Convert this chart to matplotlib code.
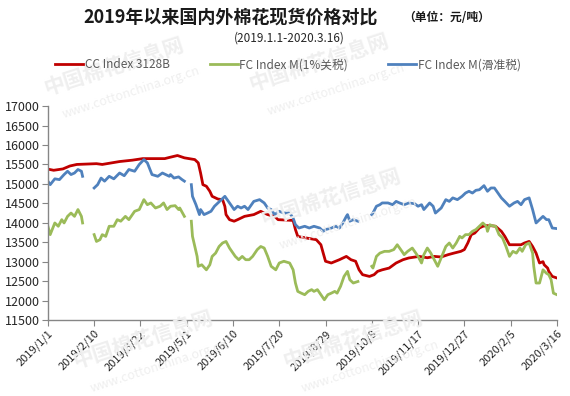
import numpy as np
import pandas as pd
import matplotlib
matplotlib.use("Agg")
import matplotlib.pyplot as plt

plt.rcParams['font.family'] = ['Noto Sans CJK SC', 'DejaVu Sans']

nan = np.nan

# CC Index 3128B
red_dates = [
    "2019-01-01", "2019-01-06", "2019-01-14", "2019-01-20", "2019-01-26", "2019-02-12",
    "2019-02-17", "2019-03-04", "2019-03-15", "2019-03-24", "2019-04-12", "2019-04-16",
    "2019-04-23", "2019-04-29", "2019-05-08", "2019-05-11", "2019-05-13", "2019-05-15",
    "2019-05-18", "2019-05-21", "2019-05-23", "2019-05-28", "2019-06-01", "2019-06-03",
    "2019-06-04", "2019-06-07", "2019-06-11", "2019-06-14", "2019-06-20", "2019-06-28",
    "2019-07-04", "2019-07-07", "2019-07-10", "2019-07-16", "2019-07-19", "2019-08-01",
    "2019-08-03", "2019-08-05", "2019-08-12", "2019-08-21", "2019-08-25", "2019-08-27",
    "2019-08-29", "2019-09-03", "2019-09-10", "2019-09-16", "2019-09-20", "2019-09-24",
    "2019-09-27", "2019-09-30", "2019-10-06", "2019-10-10", "2019-10-13", "2019-10-17",
    "2019-10-23", "2019-10-29", "2019-11-04", "2019-11-09", "2019-11-18", "2019-11-25",
    "2019-12-01", "2019-12-07", "2019-12-13", "2019-12-18", "2019-12-24", "2019-12-27",
    "2019-12-30", "2020-01-02", "2020-01-05", "2020-01-09", "2020-01-12", "2020-01-15",
    "2020-01-19", "2020-01-23", "2020-01-28", "2020-01-31", "2020-02-04", "2020-02-08",
    "2020-02-14", "2020-02-17", "2020-02-21", "2020-02-24", "2020-02-27", "2020-03-01",
    "2020-03-04", "2020-03-05", "2020-03-08", "2020-03-09", "2020-03-12", "2020-03-16",
]
red_vals = [
    15380, 15350, 15385, 15460, 15500, 15520,
    15500, 15575, 15610, 15650, 15650, 15680,
    15730, 15670, 15625, 15540, 15280, 14980,
    14940, 14810, 14680, 14610, 14595, 14420,
    14210, 14080, 14040, 14080, 14165, 14210,
    14295, 14250, 14210, 14165, 14080, 14060,
    13825, 13650, 13610, 13565, 13435, 13220,
    13010, 12965, 13050, 13135, 13050, 13010,
    12790, 12665, 12620, 12665, 12750, 12790,
    12835, 12965, 13050, 13095, 13135, 13100,
    13135, 13120, 13180, 13220, 13265, 13310,
    13480, 13695, 13735, 13865, 13910, 13925,
    13925, 13910, 13780, 13650, 13435, 13435,
    13435, 13480, 13520, 13390, 13220, 12965,
    13000, 12920, 12835, 12750, 12620, 12580,
]

# FC Index M (1% tariff)
green_dates = [
    "2019-01-01", "2019-01-03", "2019-01-07", "2019-01-10", "2019-01-13", "2019-01-15",
    "2019-01-18", "2019-01-21", "2019-01-24", "2019-01-27", "2019-01-30", "2019-01-31",
    "2019-02-05",
    "2019-02-10", "2019-02-12", "2019-02-15", "2019-02-17", "2019-02-20", "2019-02-23",
    "2019-02-27", "2019-03-02", "2019-03-05", "2019-03-09", "2019-03-12", "2019-03-17",
    "2019-03-21", "2019-03-25", "2019-03-28", "2019-03-31", "2019-04-04", "2019-04-08",
    "2019-04-11", "2019-04-14", "2019-04-17", "2019-04-21", "2019-04-24", "2019-04-25",
    "2019-04-29",
    "2019-05-02",
    "2019-05-05", "2019-05-06", "2019-05-08", "2019-05-10", "2019-05-11", "2019-05-14",
    "2019-05-18", "2019-05-21", "2019-05-23", "2019-05-26", "2019-05-29", "2019-06-01",
    "2019-06-04", "2019-06-07", "2019-06-09", "2019-06-12", "2019-06-15", "2019-06-18",
    "2019-06-21", "2019-06-24", "2019-06-27", "2019-07-01", "2019-07-04", "2019-07-07",
    "2019-07-10", "2019-07-13", "2019-07-17", "2019-07-20", "2019-07-24", "2019-07-29",
    "2019-08-01", "2019-08-03", "2019-08-05", "2019-08-08", "2019-08-11", "2019-08-14",
    "2019-08-17", "2019-08-19", "2019-08-22", "2019-08-25", "2019-08-28", "2019-08-31",
    "2019-09-03", "2019-09-06", "2019-09-08", "2019-09-11", "2019-09-14", "2019-09-17",
    "2019-09-19", "2019-09-22", "2019-09-26",
    "2019-10-01",
    "2019-10-08", "2019-10-09", "2019-10-12", "2019-10-15", "2019-10-19", "2019-10-23",
    "2019-10-27", "2019-10-30", "2019-11-02", "2019-11-05", "2019-11-08", "2019-11-12",
    "2019-11-15", "2019-11-17", "2019-11-20", "2019-11-22", "2019-11-25", "2019-11-28",
    "2019-12-01", "2019-12-04", "2019-12-07", "2019-12-11", "2019-12-14", "2019-12-17",
    "2019-12-20", "2019-12-23", "2019-12-25", "2019-12-28", "2019-12-31", "2020-01-03",
    "2020-01-06", "2020-01-09", "2020-01-12", "2020-01-15", "2020-01-16", "2020-01-18",
    "2020-01-20", "2020-01-23", "2020-01-26", "2020-01-29", "2020-02-01", "2020-02-04",
    "2020-02-07", "2020-02-10", "2020-02-13", "2020-02-15", "2020-02-18", "2020-02-21",
    "2020-02-24", "2020-02-25", "2020-02-27", "2020-03-01", "2020-03-04", "2020-03-07",
    "2020-03-09", "2020-03-11", "2020-03-13", "2020-03-16",
]
green_vals = [
    13910, 13695, 13995, 13910, 14080, 13995,
    14165, 14250, 14165, 14340, 14165, 13995,
    nan,
    13695, 13520, 13565, 13695, 13650, 13910,
    13910, 14080, 14040, 14165, 14080, 14295,
    14340, 14595, 14465, 14510, 14380, 14425,
    14510, 14340, 14425, 14440, 14340, 14380,
    14165,
    nan,
    14040, 13650, 13390, 13135, 12880, 12920,
    12790, 12920, 13135, 13220, 13390, 13480,
    13520, 13350, 13265, 13135, 13050, 13135,
    13050, 13050, 13135, 13310, 13390, 13350,
    13135, 12880, 12790, 12965, 13010, 12965,
    12790, 12450, 12235, 12190, 12150, 12235,
    12280, 12235, 12280, 12150, 12020, 12150,
    12190, 12235, 12190, 12365, 12620, 12750,
    12535, 12450, 12490,
    nan,
    12880, 12835, 13135, 13220, 13265, 13265,
    13310, 13435, 13310, 13180, 13265, 13350,
    13220, 13135, 12965, 13180, 13350, 13220,
    13050, 12880, 13100, 13390, 13480, 13350,
    13480, 13650, 13610, 13695, 13695, 13780,
    13825, 13910, 13995, 13910, 13780, 13950,
    13925, 13910, 13695, 13610, 13390, 13135,
    13265, 13220, 13350, 13265, 13435, 13480,
    13220, 12880, 12450, 12450, 12790, 12700,
    12665, 12535, 12190, 12150,
]

# FC Index M (sliding-scale tariff)
blue_dates = [
    "2019-01-01", "2019-01-03", "2019-01-07", "2019-01-11", "2019-01-15", "2019-01-18",
    "2019-01-21", "2019-01-24", "2019-01-27", "2019-01-30", "2019-01-31",
    "2019-02-05",
    "2019-02-10", "2019-02-13", "2019-02-16", "2019-02-19", "2019-02-23", "2019-02-27",
    "2019-03-04", "2019-03-08", "2019-03-12", "2019-03-17", "2019-03-21", "2019-03-25",
    "2019-03-28", "2019-04-01", "2019-04-06", "2019-04-10", "2019-04-16", "2019-04-17",
    "2019-04-20", "2019-04-24", "2019-04-27", "2019-04-29",
    "2019-05-02",
    "2019-05-05", "2019-05-06", "2019-05-09", "2019-05-12", "2019-05-13", "2019-05-16",
    "2019-05-19", "2019-05-22", "2019-05-25", "2019-05-28", "2019-05-31", "2019-06-03",
    "2019-06-05", "2019-06-08", "2019-06-11", "2019-06-14", "2019-06-17", "2019-06-20",
    "2019-06-23", "2019-06-26", "2019-06-28", "2019-07-03", "2019-07-07", "2019-07-10",
    "2019-07-13", "2019-07-16", "2019-07-20", "2019-07-24", "2019-07-29", "2019-08-01",
    "2019-08-03", "2019-08-06", "2019-08-11", "2019-08-15", "2019-08-19", "2019-08-24",
    "2019-08-27", "2019-08-29", "2019-09-03", "2019-09-07", "2019-09-10", "2019-09-13",
    "2019-09-16", "2019-09-17", "2019-09-19", "2019-09-22", "2019-09-26",
    "2019-10-01",
    "2019-10-08", "2019-10-09", "2019-10-12", "2019-10-15", "2019-10-17", "2019-10-22",
    "2019-10-26", "2019-10-29", "2019-11-01", "2019-11-05", "2019-11-09", "2019-11-14",
    "2019-11-17", "2019-11-20", "2019-11-22", "2019-11-27", "2019-11-30", "2019-12-02",
    "2019-12-07", "2019-12-11", "2019-12-14", "2019-12-17", "2019-12-21", "2019-12-25",
    "2019-12-28", "2019-12-31", "2020-01-03", "2020-01-06", "2020-01-09", "2020-01-13",
    "2020-01-16", "2020-01-19", "2020-01-22", "2020-01-25", "2020-01-28", "2020-01-31",
    "2020-02-04", "2020-02-08", "2020-02-11", "2020-02-14", "2020-02-17", "2020-02-21",
    "2020-02-24", "2020-02-27", "2020-03-01", "2020-03-04", "2020-03-07", "2020-03-09",
    "2020-03-12", "2020-03-16",
]
blue_vals = [
    15070, 14980, 15130, 15110, 15240, 15325,
    15240, 15280, 15370, 15325, 15195,
    nan,
    14895, 14980, 15150, 15070, 15195, 15130,
    15280, 15210, 15370, 15325, 15500, 15625,
    15540, 15240, 15195, 15280, 15195, 15240,
    15150, 15180, 15110, 15070,
    nan,
    14980, 14680, 14465, 14210, 14340, 14210,
    14250, 14295, 14425, 14510, 14595, 14680,
    14595, 14465, 14340, 14425, 14380, 14425,
    14340, 14465, 14550, 14595, 14510, 14380,
    14340, 14210, 14295, 14250, 14250, 14120,
    13950, 13865, 13910, 13865, 13910, 13865,
    13780, 13825, 13865, 13910, 13865, 13995,
    14165, 14210, 14040, 14080, 14040,
    nan,
    14210, 14250, 14425, 14465, 14510, 14510,
    14465, 14550, 14510, 14465, 14510, 14490,
    14425, 14465, 14340, 14510, 14425, 14250,
    14380, 14595, 14550, 14640, 14595, 14680,
    14765, 14810, 14765, 14835, 14850, 14955,
    14810, 14895, 14895, 14765, 14640, 14550,
    14425, 14510, 14550, 14465, 14595, 14640,
    14340, 13995, 14080, 14165, 14080, 14080,
    13865, 13850,
]

series_names = ["CC Index 3128B", "FC Index M(1%关税)", "FC Index M(滑准税)"]
tick_dates = ["2019-01-01", "2019-02-10", "2019-03-22", "2019-05-01", "2019-06-10",
              "2019-07-20", "2019-08-29", "2019-10-08", "2019-11-17", "2019-12-27",
              "2020-02-05", "2020-03-16"]
tick_labels = ["2019/1/1", "2019/2/10", "2019/3/22", "2019/5/1", "2019/6/10",
               "2019/7/20", "2019/8/29", "2019/10/8", "2019/11/17", "2019/12/27",
               "2020/2/5", "2020/3/16"]
y_ticks = list(range(11500, 17001, 500))

fig = plt.figure(figsize=(5.7, 3.96), dpi=100)
ax = fig.add_axes([0.084, 0.192, 0.893, 0.540])

# faint site watermarks (kept inside the canvas)
wm_color = "#efefef"
for (wx, wy) in [(0.20, 0.83), (0.56, 0.84), (0.58, 0.50), (0.25, 0.14), (0.62, 0.14)]:
    fig.text(wx, wy, "中国棉花信息网", fontsize=15, fontweight="bold", color=wm_color,
             rotation=18, ha="center", va="center", zorder=0)
    fig.text(wx + 0.03, wy - 0.065, "www.cottonchina.org.cn", fontsize=9, color=wm_color,
             rotation=18, ha="center", va="center", zorder=0)
ax.patch.set_alpha(0)

lw = 2.0
ax.plot(pd.to_datetime(red_dates), red_vals, color="#C00000", lw=lw, label=series_names[0])
ax.plot(pd.to_datetime(green_dates), green_vals, color="#9BBB59", lw=lw, label=series_names[1])
ax.plot(pd.to_datetime(blue_dates), blue_vals, color="#4F81BD", lw=lw, label=series_names[2])

ax.set_xlim(pd.Timestamp("2019-01-01"), pd.Timestamp("2020-03-16"))
ax.set_ylim(11500, 17000)
ax.set_yticks(y_ticks)
ax.set_xticks(pd.to_datetime(tick_dates))
ax.set_xticklabels(tick_labels, rotation=45, ha="right", rotation_mode="anchor", fontsize=8)
ax.tick_params(axis="y", labelsize=9, length=4, color="#868686", labelcolor="#262626", pad=2)
ax.tick_params(axis="x", length=4, color="#868686", labelcolor="#262626", pad=2)

for side in ["top", "right"]:
    ax.spines[side].set_visible(False)
for side in ["left", "bottom"]:
    ax.spines[side].set_color("#868686")
    ax.spines[side].set_linewidth(1.0)

fig.text(0.405, 0.957, "2019年以来国内外棉花现货价格对比", fontsize=13, fontweight="bold",
         ha="center", va="center", color="#1a1a1a")
fig.text(0.783, 0.955, "（单位：元/吨）", fontsize=8.5, fontweight="bold",
         ha="center", va="center", color="#1a1a1a")
fig.text(0.507, 0.903, "(2019.1.1-2020.3.16)", fontsize=8.5,
         ha="center", va="center", color="#262626")

leg = fig.legend(loc="center", bbox_to_anchor=(0.505, 0.836), ncol=3, frameon=False,
                 fontsize=8.5, handlelength=2.4, handletextpad=0.1, columnspacing=3.4)
for t in leg.get_texts():
    t.set_color("#595959")

fig.savefig("out.png", dpi=100)
